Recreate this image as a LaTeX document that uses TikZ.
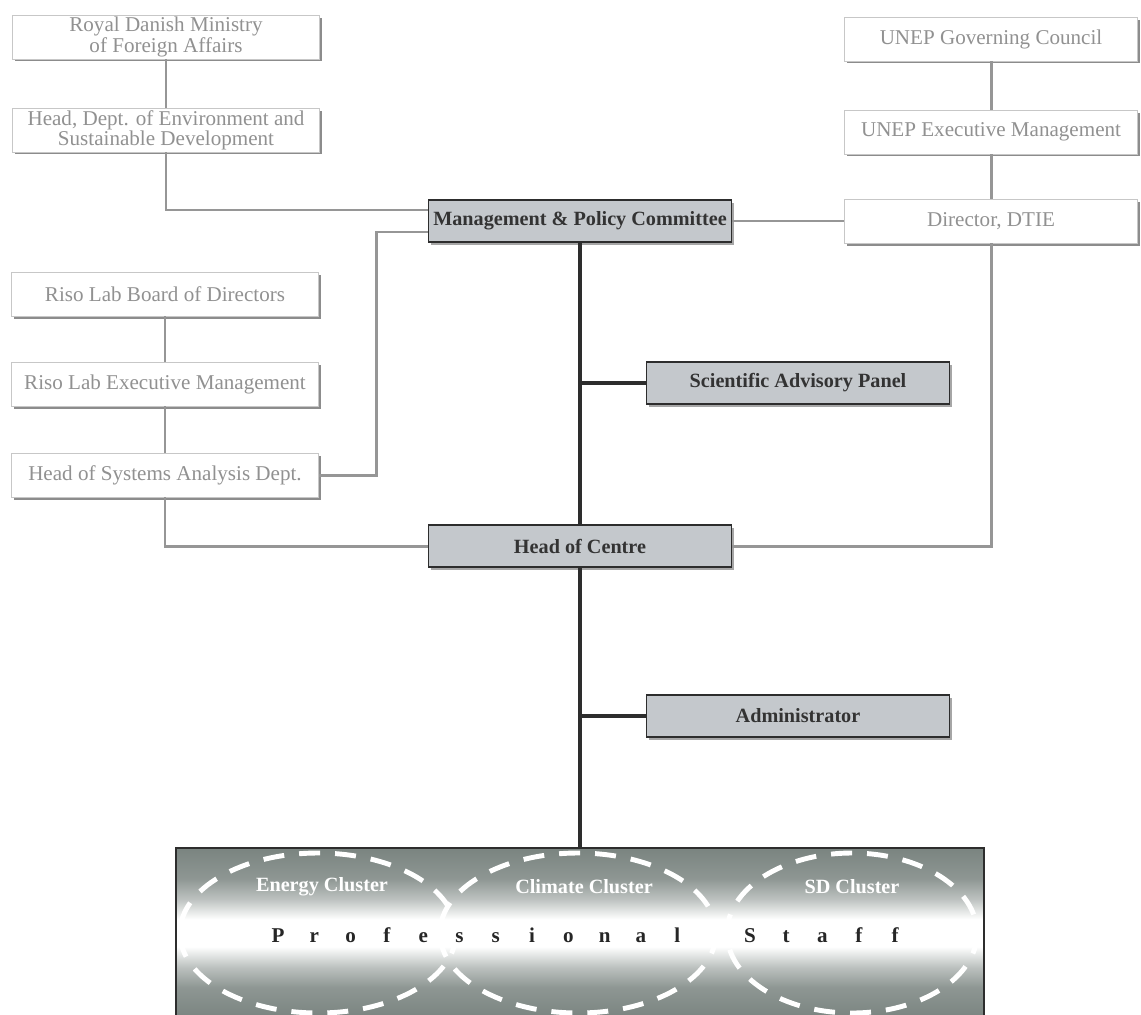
\documentclass[tikz,border=0pt]{standalone}
\usepackage{fontspec}
\setmainfont{Liberation Serif}
\usetikzlibrary{positioning,shadows,calc}
\definecolor{LineGray}{RGB}{150,150,150}
\definecolor{TextGray}{RGB}{145,145,145}
\definecolor{BoxGray}{RGB}{196,200,204}
\definecolor{EdgeDark}{RGB}{45,45,45}
\definecolor{StaffGray}{RGB}{122,132,128}
\pgfdeclareverticalshading{staffband}{100bp}{color(0bp)=(StaffGray); color(25bp)=(StaffGray); color(34bp)=(StaffGray!85); color(40bp)=(StaffGray!50); color(46bp)=(white); color(54bp)=(white); color(60bp)=(StaffGray!50); color(66bp)=(StaffGray!85); color(75bp)=(StaffGray); color(100bp)=(StaffGray)}

\begin{document}
\begin{tikzpicture}[x=0.02cm,y=-0.02cm,
    outerbox/.style={draw=black!22,fill=white,text=TextGray,align=center,
      font=\fontsize{12}{11.5}\selectfont,minimum height=0.88cm,inner sep=0pt,
      drop shadow={shadow xshift=0.05cm,shadow yshift=-0.05cm,fill=black!45,opacity=1}},
    leftbox/.style={outerbox,minimum width=6.14cm},
    rightbox/.style={outerbox,minimum width=5.86cm},
    corebox/.style={draw=EdgeDark,line width=0.8pt,fill=BoxGray,text=black!80,
      font=\fontsize{11.5}{13}\selectfont\bfseries,minimum width=6.06cm,
      minimum height=0.84cm,inner sep=0pt,
      drop shadow={shadow xshift=0.05cm,shadow yshift=-0.05cm,fill=black!35,opacity=1}},
    greyline/.style={LineGray,line width=1.7pt},
    darkline/.style={EdgeDark,line width=2.8pt},
    clusterring/.style={white,line width=2.8pt,dash pattern=on 0.42cm off 0.3cm},
    clusterlabel/.style={text=white,font=\fontsize{11.5}{13}\selectfont\bfseries},
  ]
  \useasboundingbox (0,0) rectangle (1141,1014);

  % left side: Danish ministry and Riso
  \node[leftbox] (royal) at (166,37) {Royal Danish Ministry\\of Foreign Affairs};
  \node[leftbox] (envdept) at (166,130) {Head, Dept. of Environment and\\Sustainable Development};
  \node[leftbox] (riso) at (165,294) {Riso Lab Board of Directors};
  \node[leftbox] (risoexec) at (165,384) {Riso Lab Executive Management};
  \node[leftbox] (sysdept) at (165,475) {Head of Systems Analysis Dept.};

  % right side: UNEP
  \node[rightbox] (unepgc) at (991,39) {UNEP Governing Council};
  \node[rightbox] (unepexec) at (991,132) {UNEP Executive Management};
  \node[rightbox] (dtie) at (991,221) {Director, DTIE};

  % centre line
  \node[corebox] (mpc) at (580,221) {Management \& Policy Committee};
  \node[corebox] (sap) at (798,383) {Scientific Advisory Panel};
  \node[corebox] (hoc) at (580,546) {Head of Centre};
  \node[corebox] (adm) at (798,716) {Administrator};

  \draw[greyline] (royal.south) -- (envdept.north);
  \draw[greyline] (envdept.south) |- ([yshift=0.22cm]mpc.west);
  \draw[greyline] (riso.south) -- (risoexec.north);
  \draw[greyline] (risoexec.south) -- (sysdept.north);
  \draw[greyline] (sysdept.east) -- ++(58,0) |- ([yshift=-0.22cm]mpc.west);
  \draw[greyline] (sysdept.south) |- (hoc.west);
  \draw[greyline] (unepgc.south) -- (unepexec.north);
  \draw[greyline] (unepexec.south) -- (dtie.north);
  \draw[greyline] (dtie.west) -- (mpc.east);
  \draw[greyline] (dtie.south) |- (hoc.east);

  \draw[darkline] (mpc.south) -- (hoc.north);
  \draw[darkline] (sap.west) -- (sap.west -| mpc.south);
  \draw[darkline] (adm.west) -- (adm.west -| hoc.south);

  % professional staff
  \node[draw=EdgeDark,line width=0.8pt,shading=staffband,minimum width=16.16cm,
    minimum height=3.4cm,inner sep=0pt] (staff) at (580,933) {};
  \draw[darkline] (hoc.south) -- (staff.north);
  \begin{scope}
    \clip (staff.south west) rectangle (staff.north east);
    \draw[clusterring] (318,933) ellipse [x radius=138,y radius=80];
    \draw[clusterring] (578,933) ellipse [x radius=138,y radius=80];
    \draw[clusterring] (852,933) ellipse [x radius=125,y radius=80];
  \end{scope}
  \node[clusterlabel] (energy) at (322,887) {Energy Cluster};
  \node[clusterlabel] (climate) at (584,887) {Climate Cluster};
  \node[clusterlabel] (sd) at (852,887) {SD Cluster};
  \foreach \ch [count=\i from 0] in {P,r,o,f,e,s,s,i,o,n,a,l,{},S,t,a,f,f}
    \node[anchor=base,inner sep=0pt,font=\fontsize{12}{14}\selectfont\bfseries,text=black!85] (ps\i) at (278+36.3*\i,942) {\ch};
\end{tikzpicture}
\end{document}
